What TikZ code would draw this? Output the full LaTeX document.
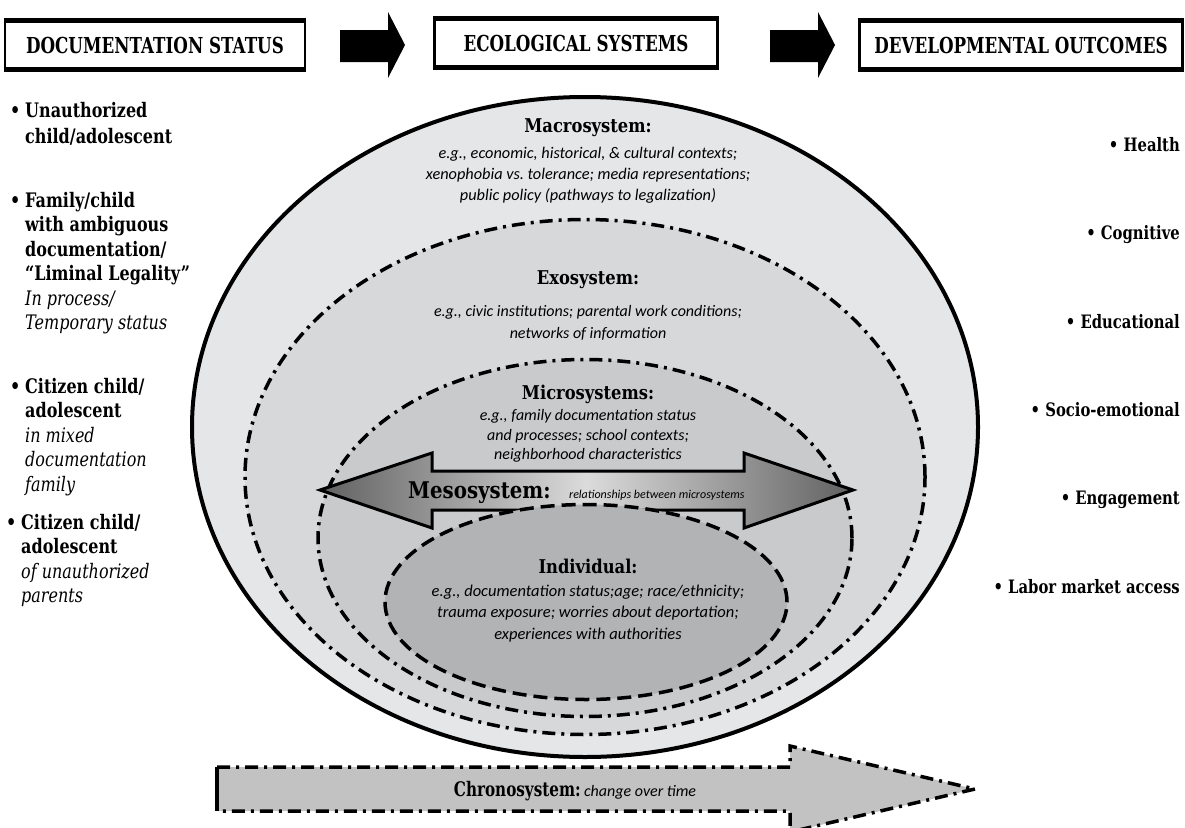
\documentclass[tikz,border=0pt]{standalone}
\usepackage{fontspec}
\setmainfont{DejaVu Serif}[FakeStretch=0.86]
\newfontfamily\headfont{DejaVu Serif}[FakeStretch=0.76]
\newfontfamily\sidefont{DejaVu Serif}[FakeStretch=0.8]
\newfontfamily\notefont{Carlito}
\usetikzlibrary{positioning,shapes.geometric}

\definecolor{macrogray}{HTML}{E4E6E8}
\definecolor{exogray}{HTML}{D6D8DA}
\definecolor{microgray}{HTML}{C8CACC}
\definecolor{indivgray}{HTML}{B1B3B5}
\definecolor{chronogray}{HTML}{C2C2C2}

\begin{document}
\begin{tikzpicture}[x=1pt, y=-1pt,
    headbox/.style = {draw, line width=2.5pt, minimum height=46pt, inner sep=0pt,
        font=\headfont\fontsize{22}{24}\selectfont\bfseries},
    system/.style = {ellipse, inner sep=0pt, outer sep=0pt},
    ring/.style = {line width=3.5pt, dash pattern=on 13pt off 6pt on 3pt off 6pt},
    systitle/.style = {inner sep=0pt, font=\fontsize{19}{22}\selectfont\bfseries},
    sysnote/.style = {inner sep=0pt, align=center, font=\notefont\itshape\fontsize{16.3}{21}\selectfont},
    status/.style = {anchor=north west, inner sep=0pt, align=left, font=\sidefont\fontsize{20}{24.5}\selectfont\bfseries},
    outcome/.style = {anchor=base east, inner sep=0pt, font=\sidefont\fontsize{18.5}{22}\selectfont\bfseries}]
  \fill[white] (0,0) rectangle (1185,827);
  \useasboundingbox (0,0) rectangle (1185,827);

  % headings
  \node[headbox, minimum width=300pt] (docstatus) at (155,45) {DOCUMENTATION STATUS};
  \node[headbox, minimum width=283pt] (ecosys) at (576,43) {ECOLOGICAL SYSTEMS};
  \node[headbox, minimum width=323pt] (devout) at (1021,45) {DEVELOPMENTAL OUTCOMES};
  \foreach \b in {docstatus, ecosys, devout} {
    \draw[line width=5pt] (\b.north west) -- (\b.north east);
    \draw[line width=5pt] (\b.south west) -- (\b.south east);
  }
  \fill (340,30) -- (388,30) -- (388,12) -- (405,45) -- (388,78) -- (388,62) -- (340,62) -- cycle;
  \fill (770,30) -- (818,30) -- (818,12) -- (835,45) -- (818,78) -- (818,62) -- (770,62) -- cycle;

  % nested systems
  \node[system, draw, line width=4pt, fill=macrogray, minimum width=786pt, minimum height=660pt] (macro) at (585,427) {};
  \node[system, draw, ring, fill=exogray, minimum width=680pt, minimum height=515pt] (exo) at (585,477) {};
  \node[system, draw, ring, fill=microgray, minimum width=534pt, minimum height=357pt] (micro) at (585,538) {};
  \draw[line width=3pt, left color=black!62, right color=black!62, middle color=black!14]
    (320,490) -- (432,453) -- (432,471) -- (744,471) -- (744,453) -- (853,490)
    -- (744,528) -- (744,510) -- (432,510) -- (432,528) -- cycle;
  \node[system, draw, line width=3.5pt, dash pattern=on 14pt off 7pt, fill=indivgray, minimum width=402pt, minimum height=195pt] (indiv) at (586,602) {};

  \node[systitle] (macrot) at (588,128) {Macrosystem:};
  \node[sysnote, below=10pt of macrot] (macron) {e.g., economic, historical, \& cultural contexts;\\ xenophobia vs.\ tolerance; media representations;\\ public policy (pathways to legalization)};
  \node[systitle] (exot) at (588,280) {Exosystem:};
  \node[sysnote, below=16pt of exot, font=\notefont\itshape\fontsize{16}{22}\selectfont] (exon) {e.g., civic institutions; parental work conditions;\\ networks of information};
  \node[systitle] (microt) at (588,394) {Microsystems:};
  \node[sysnote, below=6pt of microt, font=\notefont\itshape\fontsize{16}{19.5}\selectfont] (micron) {e.g., family documentation status\\ and processes; school contexts;\\ neighborhood characteristics};
  \node[systitle, anchor=base west, font=\fontsize{23}{24}\selectfont\bfseries] (mesot) at (408,498) {Mesosystem:};
  \node[sysnote, anchor=base west, font=\notefont\itshape\fontsize{12}{14}\selectfont] (meson) at ([xshift=18pt]mesot.base east) {relationships between microsystems};
  \node[systitle] (indivt) at (588,566) {Individual:};
  \node[sysnote, below=11pt of indivt, font=\notefont\itshape\fontsize{16.5}{21.5}\selectfont] (indivn) {e.g., documentation status;age; race/ethnicity;\\ trauma exposure; worries about deportation;\\ experiences with authorities};

  % chronosystem
  \draw[ring, fill=chronogray] (217,767) -- (790,767) -- (790,746) -- (975,789) -- (790,832) -- (790,811) -- (217,811);
  \draw[line width=3.5pt] (217,811) -- (217,767);
  \node[inner sep=0pt, anchor=base, font=\headfont\fontsize{20}{22}\selectfont\bfseries] (chronot) at (575,796) {Chronosystem:\,{\notefont\itshape\mdseries\fontsize{16}{17}\selectfont change over time}};

  % documentation status
  \node[status] (unauth) at (10,102) {\makebox[15pt][l]{•}Unauthorized\\[2pt] \hspace*{15pt}child/adolescent};
  \node[status] (ambig) at (10,192) {\makebox[15pt][l]{•}Family/child\\ \hspace*{15pt}with ambiguous\\ \hspace*{15pt}documentation/\\ \hspace*{15pt}“Liminal Legality”\\ \hspace*{15pt}\mdseries\itshape In process/\\ \hspace*{15pt}\mdseries\itshape Temporary status};
  \node[status] (mixed) at (10,378) {\makebox[15pt][l]{•}Citizen child/\\ \hspace*{15pt}adolescent\\ \hspace*{15pt}\mdseries\itshape in mixed\\ \hspace*{15pt}\mdseries\itshape documentation\\ \hspace*{15pt}\mdseries\itshape family};
  \node[status] (unparents) at (6,514) {\makebox[15pt][l]{•}Citizen child/\\ \hspace*{15pt}adolescent\\ \hspace*{15pt}\mdseries\itshape of unauthorized\\ \hspace*{15pt}\mdseries\itshape parents};

  % developmental outcomes
  \node[outcome] (health) at (1180,151) {• Health};
  \node[outcome] (cognit) at (1180,239) {• Cognitive};
  \node[outcome] (educ) at (1180,328) {• Educational};
  \node[outcome] (socio) at (1180,416) {• Socio-emotional};
  \node[outcome] (engage) at (1180,504) {• Engagement};
  \node[outcome] (labor) at (1180,593) {• Labor market access};
\end{tikzpicture}
\end{document}
